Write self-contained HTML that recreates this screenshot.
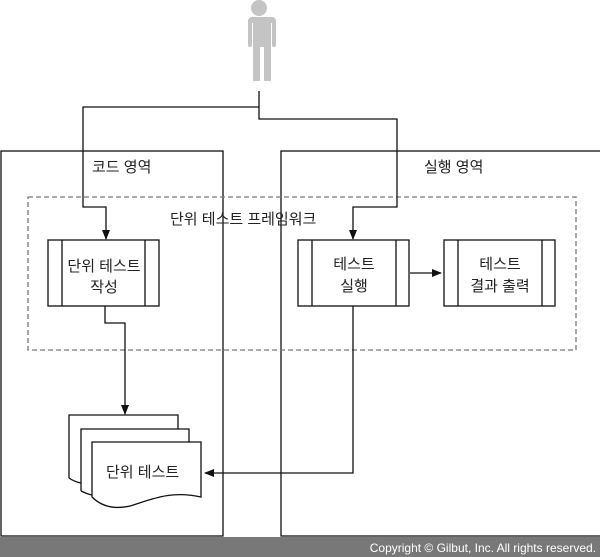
<!DOCTYPE html>
<html><head><meta charset="utf-8"><style>
html,body{margin:0;padding:0;background:#fff;}
svg{display:block;}
text{font-family:"Liberation Sans","Noto Sans CJK KR",sans-serif;font-size:15px;fill:#222;}
</style></head><body>
<svg width="600" height="557" viewBox="0 0 600 557" xmlns="http://www.w3.org/2000/svg">
<defs><marker id="a" markerWidth="10" markerHeight="8" refX="9" refY="4" orient="auto" markerUnits="userSpaceOnUse"><path d="M0,0 L10,4 L0,8 z" fill="#111"/></marker></defs>
<g fill="#c4c4c4">
<circle cx="259" cy="8" r="8"/>
<path d="M246,17 h26 a4,4 0 0 1 4,4 v24 a2,2 0 0 1 -4,0 v-22 h-1 v58 h-7 v-34 h-4 v34 h-7 v-58 h-1 v22 a2,2 0 0 1 -4,0 v-24 a4,4 0 0 1 4,-4z"/>
</g>
<g fill="none" stroke="#111" stroke-width="1.3">
<rect x="1" y="151" width="222" height="385"/>
<rect x="281" y="151" width="322" height="385"/>
<rect x="28" y="197" width="548" height="153" stroke="#777" stroke-dasharray="5,3"/>
<path d="M259,91 V107 H83 V207 H106 V239" marker-end="url(#a)"/>
<path d="M259,107 V119 H397 V207 H353 V239" marker-end="url(#a)"/>
<path d="M410,273 H441" marker-end="url(#a)"/>
<path d="M105,306 V323 H125 V414" marker-end="url(#a)"/>
<path d="M353,306 V473 H205" marker-end="url(#a)"/>
<rect x="48" y="240" width="111" height="66" fill="#fff"/><path d="M62,240 V306 M145,240 V306"/>
<rect x="298" y="240" width="111" height="66" fill="#fff"/><path d="M312,240 V306 M396,240 V306"/>
<rect x="444" y="240" width="111" height="66" fill="#fff"/><path d="M458,240 V306 M542,240 V306"/>
<path d="M69,478 V415 H178 V430" fill="#fff"/>
<path d="M69,478 Q75,482 81,483" />
<path d="M81,491 V429 H189 V442" fill="#fff"/>
<path d="M81,491 Q87,494 92,495"/>
<path d="M92,497 V442 H201 V497 C170,490 150,500 130,506 C112,510 100,505 92,497 z" fill="#fff"/>
</g>
<text x="92" y="172">코드 영역</text>
<text x="424" y="172">실행 영역</text>
<text x="170" y="224">단위 테스트 프레임워크</text>
<text x="104" y="271" text-anchor="middle">단위 테스트</text>
<text x="104" y="292" text-anchor="middle">작성</text>
<text x="354" y="269" text-anchor="middle">테스트</text>
<text x="354" y="291" text-anchor="middle">실행</text>
<text x="500" y="269" text-anchor="middle">테스트</text>
<text x="500" y="291" text-anchor="middle">결과 출력</text>
<text x="106" y="477">단위 테스트</text>
<rect x="0" y="537" width="600" height="20" fill="#787878"/>
<text x="596" y="552" text-anchor="end" style="font-size:12px;fill:#fff">Copyright © Gilbut, Inc. All rights reserved.</text>
</svg>
</body></html>
